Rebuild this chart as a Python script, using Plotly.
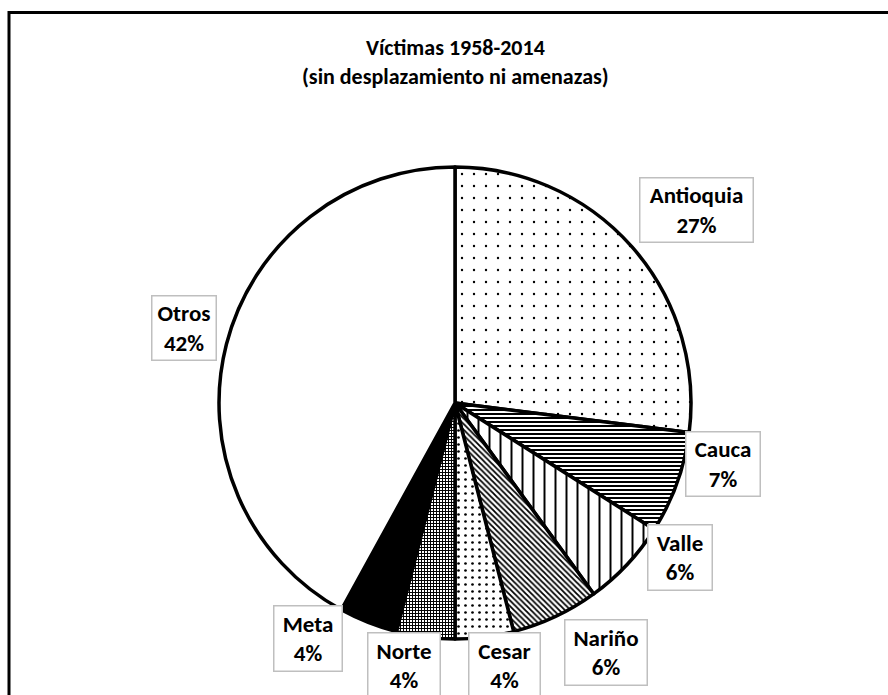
import plotly.graph_objects as go

# ---- data ----
categories = ["Antioquia", "Cauca", "Valle", "Nariño", "Cesar", "Norte", "Meta", "Otros"]
shares = [27, 7, 6, 6, 4, 4, 4, 42]
pct_labels = ["27%", "7%", "6%", "6%", "4%", "4%", "4%", "42%"]
title_lines = ["Víctimas 1958-2014", "(sin desplazamiento ni amenazas)"]

# ---- styles ----
slice_colors = ["white", "white", "white", "white", "white", "white", "black", "white"]
pat_shapes = [".", "-", "|", "\\", ".", "+", "", ""]
pat_sizes = [12, 4, 11, 4, 7, 3, 8, 8]
pat_solid = [0.03, 0.5, 0.18, 0.45, 0.12, 0.55, 0.3, 0.3]

W, H = 888, 695
CX, CY, R = 455, 403, 236
FONT = "Carlito, Lato, 'Liberation Sans', sans-serif"

# label boxes: center x, center y, width, height (pixels)
label_boxes = {
    "Antioquia": (696.5, 210, 115, 66),
    "Cauca": (723, 464, 76, 66),
    "Valle": (680, 557.5, 66, 67),
    "Nariño": (606, 652.5, 84, 67),
    "Cesar": (504.5, 665, 73, 67),
    "Norte": (404, 665, 74, 67),
    "Meta": (308, 638.5, 70, 67),
    "Otros": (184, 328, 66, 66),
}

fig = go.Figure(
    go.Pie(
        labels=categories,
        values=shares,
        sort=False,
        direction="clockwise",
        rotation=0,
        textinfo="none",
        hoverinfo="label+percent",
        showlegend=False,
        marker=dict(
            colors=slice_colors,
            line=dict(color="black", width=3.5),
            pattern=dict(
                shape=pat_shapes,
                size=pat_sizes,
                solidity=pat_solid,
                fgcolor="black",
                bgcolor="white",
                fillmode="replace",
            ),
        ),
        domain=dict(
            x=[(CX - R) / W, (CX + R) / W],
            y=[(H - CY - R) / H, (H - CY + R) / H],
        ),
    )
)

annotations = []
for cat, pct in zip(categories, pct_labels):
    x, y, w, h = label_boxes[cat]
    annotations.append(
        dict(
            x=x / W, y=1 - y / H, xref="paper", yref="paper",
            xanchor="center", yanchor="middle",
            text=f"<b>{cat}</b><br><b>{pct}</b>",
            showarrow=False,
            font=dict(family=FONT, size=23, color="black"),
            bordercolor="#bfbfbf", borderwidth=1.5, borderpad=0,
            bgcolor="white",
            width=w - 3, height=h - 3, align="center", valign="middle",
        )
    )

annotations.append(
    dict(
        x=455 / W, y=1 - 62 / H, xref="paper", yref="paper",
        xanchor="center", yanchor="middle",
        text="<b>" + title_lines[0] + "</b><br><b>" + title_lines[1] + "</b>",
        showarrow=False,
        font=dict(family=FONT, size=22, color="black"),
        align="center",
    )
)

fig.update_layout(
    width=W, height=H,
    margin=dict(l=0, r=0, t=0, b=0),
    paper_bgcolor="white",
    plot_bgcolor="white",
    annotations=annotations,
    shapes=[
        dict(
            type="rect", xref="paper", yref="paper",
            x0=9 / W, x1=1.1, y0=-0.1, y1=1 - 12.5 / H,
            line=dict(color="black", width=3),
            fillcolor="rgba(0,0,0,0)",
            layer="above",
        )
    ],
)

fig.write_html("out.html")
